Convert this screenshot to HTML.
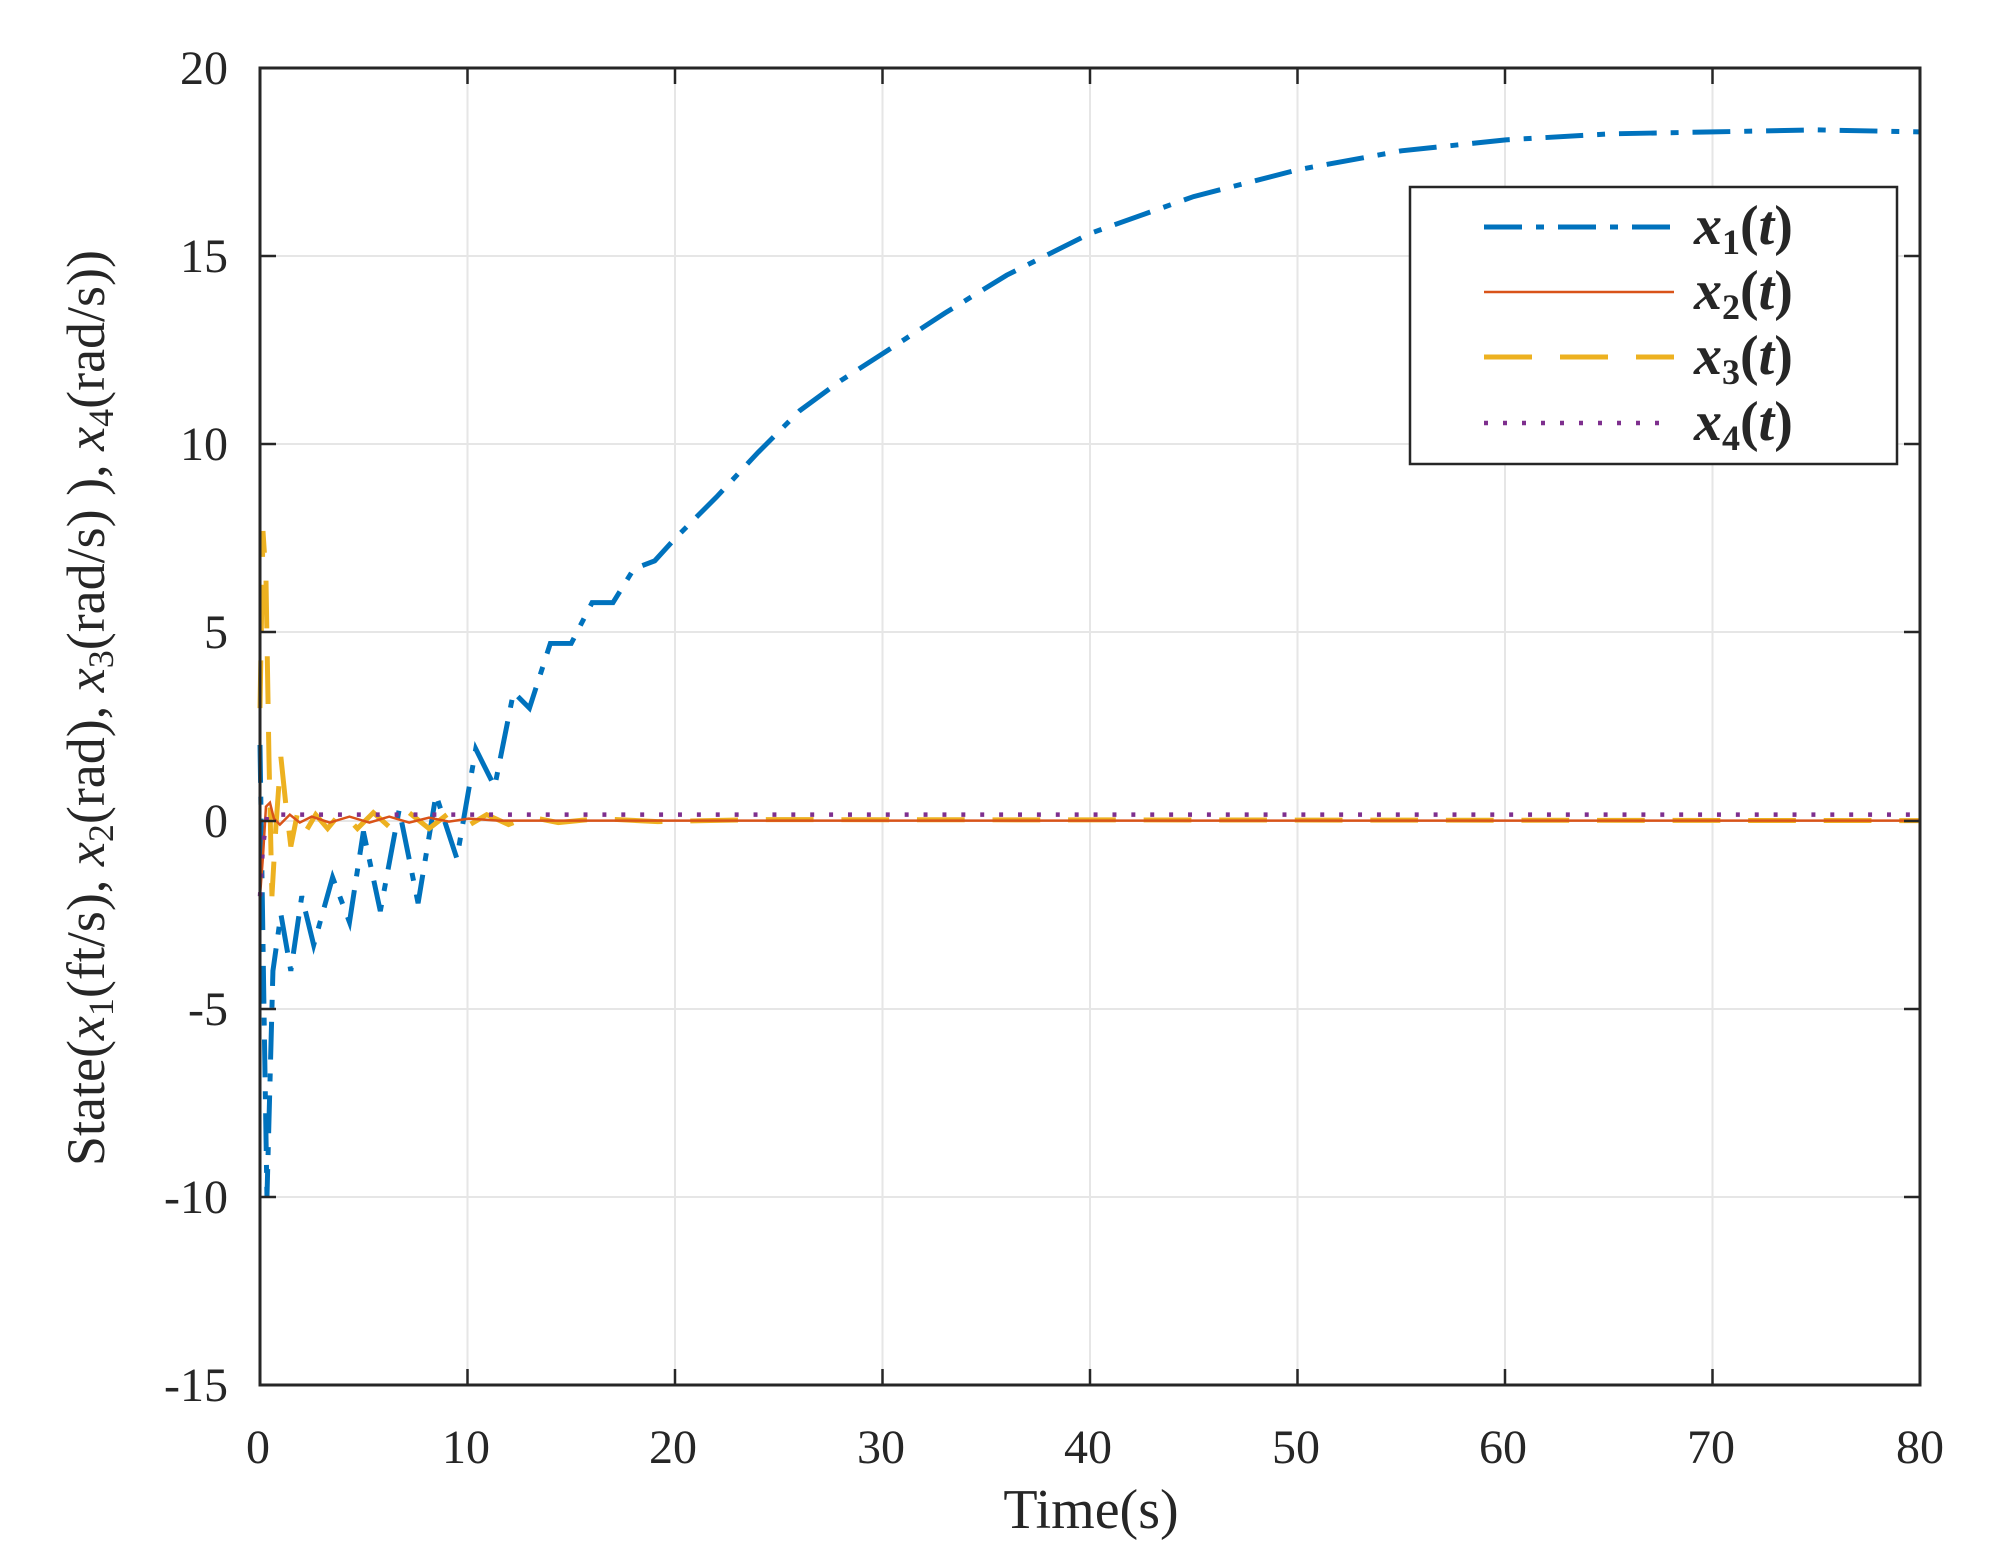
<!DOCTYPE html>
<html><head><meta charset="utf-8"><style>
html,body{margin:0;padding:0;background:#fff}
svg{display:block}
text{font-family:"Liberation Serif",serif;fill:#262626}
</style></head><body>
<svg width="1991" height="1560" viewBox="0 0 1991 1560" xmlns="http://www.w3.org/2000/svg">
<rect width="1991" height="1560" fill="#fff"/>
<g stroke="#e6e6e6" stroke-width="2">
<line x1="467.5" y1="68" x2="467.5" y2="1385"/><line x1="675" y1="68" x2="675" y2="1385"/>
<line x1="882.5" y1="68" x2="882.5" y2="1385"/><line x1="1090" y1="68" x2="1090" y2="1385"/>
<line x1="1297.5" y1="68" x2="1297.5" y2="1385"/><line x1="1505" y1="68" x2="1505" y2="1385"/>
<line x1="1712.5" y1="68" x2="1712.5" y2="1385"/>
<line x1="260" y1="256" x2="1920" y2="256"/><line x1="260" y1="444" x2="1920" y2="444"/>
<line x1="260" y1="632" x2="1920" y2="632"/><line x1="260" y1="821" x2="1920" y2="821"/>
<line x1="260" y1="1009" x2="1920" y2="1009"/><line x1="260" y1="1197" x2="1920" y2="1197"/>
</g>
<g transform="translate(260,820.6) scale(0.99425,0.99524) translate(-260,-824)">
<polyline fill="none" stroke="#0072BD" stroke-width="5" stroke-dasharray="38,14,8,14" points="260,748 264,1013 267,1202 273,975 281,918 291,975 302,900 314,949 333,881 350,926 364,835 381,915 400,813 419,907 437,798 458,862 477,752 496,790 515,695 531,711 552,646 573,646 594,605 615,605 636,571 657,563 677,541 719,499 761,454 803,412 844,382 886,355 949,314 1011,276 1095,234 1199,197 1304,170 1408,151 1513,140 1617,134 1722,132 1826,130 1930,132"/>
<polyline fill="none" stroke="#EDB120" stroke-width="5" stroke-dasharray="48,28" points="260,711 263,533 266,580 269,760 272,900 276,830 281,760 286,808 291,850 298,815 306,835 316,818 328,832 342,815 358,832 374,816 392,832 410,816 430,832 448,818 468,830 488,818 510,828 530,820 560,826 600,822 660,825 760,823 1930,824"/>
<polyline fill="none" stroke="#D95319" stroke-width="2.5" points="260,900 263,860 266,810 270,806 274,822 280,828 290,818 300,826 312,820 330,826 350,820 370,826 390,820 410,826 430,821 450,825 470,822 500,824 1930,824"/>
<polyline fill="none" stroke="#7E2F8E" stroke-width="4.5" stroke-dasharray="4,15" points="260,900 263,850 267,820 275,818 290,818 1930,818"/>
</g>
<rect x="260" y="68" width="1660" height="1317" fill="none" stroke="#262626" stroke-width="3"/>
<g stroke="#262626" stroke-width="2.5">
<line x1="467.5" y1="1385" x2="467.5" y2="1369"/><line x1="675" y1="1385" x2="675" y2="1369"/><line x1="882.5" y1="1385" x2="882.5" y2="1369"/><line x1="1090" y1="1385" x2="1090" y2="1369"/><line x1="1297.5" y1="1385" x2="1297.5" y2="1369"/><line x1="1505" y1="1385" x2="1505" y2="1369"/><line x1="1712.5" y1="1385" x2="1712.5" y2="1369"/>
<line x1="467.5" y1="68" x2="467.5" y2="84"/><line x1="675" y1="68" x2="675" y2="84"/><line x1="882.5" y1="68" x2="882.5" y2="84"/><line x1="1090" y1="68" x2="1090" y2="84"/><line x1="1297.5" y1="68" x2="1297.5" y2="84"/><line x1="1505" y1="68" x2="1505" y2="84"/><line x1="1712.5" y1="68" x2="1712.5" y2="84"/>
<line x1="260" y1="256" x2="276" y2="256"/><line x1="260" y1="444" x2="276" y2="444"/><line x1="260" y1="632" x2="276" y2="632"/><line x1="260" y1="821" x2="276" y2="821"/><line x1="260" y1="1009" x2="276" y2="1009"/><line x1="260" y1="1197" x2="276" y2="1197"/>
<line x1="1920" y1="256" x2="1904" y2="256"/><line x1="1920" y1="444" x2="1904" y2="444"/><line x1="1920" y1="632" x2="1904" y2="632"/><line x1="1920" y1="821" x2="1904" y2="821"/><line x1="1920" y1="1009" x2="1904" y2="1009"/><line x1="1920" y1="1197" x2="1904" y2="1197"/>
</g>
<g font-size="48" text-anchor="end">
<text x="228" y="84">20</text><text x="228" y="272">15</text><text x="228" y="460">10</text><text x="228" y="648">5</text><text x="228" y="837">0</text><text x="228" y="1025">-5</text><text x="228" y="1213">-10</text><text x="228" y="1401">-15</text>
</g>
<g font-size="48" text-anchor="middle">
<text x="258" y="1463">0</text><text x="466" y="1463">10</text><text x="673" y="1463">20</text><text x="881" y="1463">30</text><text x="1088" y="1463">40</text><text x="1296" y="1463">50</text><text x="1503" y="1463">60</text><text x="1711" y="1463">70</text><text x="1920" y="1463">80</text>
<text x="1091" y="1528" font-size="56">Time(s)</text>
</g>
<text transform="translate(104,708) rotate(-90)" font-size="54" text-anchor="middle">State(<tspan font-style="italic">x</tspan><tspan font-size="36" dy="9">1</tspan><tspan dy="-9">(ft/s), </tspan><tspan font-style="italic">x</tspan><tspan font-size="36" dy="9">2</tspan><tspan dy="-9">(rad), </tspan><tspan font-style="italic">x</tspan><tspan font-size="36" dy="9">3</tspan><tspan dy="-9">(rad/s) ), </tspan><tspan font-style="italic">x</tspan><tspan font-size="36" dy="9">4</tspan><tspan dy="-9">(rad/s))</tspan></text>
<rect x="1410" y="187" width="487" height="277" fill="#fff" stroke="#262626" stroke-width="2.5"/>
<line x1="1484" y1="227" x2="1674" y2="227" stroke="#0072BD" stroke-width="5" stroke-dasharray="38,14,8,14"/>
<line x1="1484" y1="292" x2="1674" y2="292" stroke="#D95319" stroke-width="2.5"/>
<line x1="1484" y1="357" x2="1674" y2="357" stroke="#EDB120" stroke-width="5" stroke-dasharray="48,28"/>
<line x1="1484" y1="423" x2="1674" y2="423" stroke="#7E2F8E" stroke-width="4.5" stroke-dasharray="4,15"/>
<g font-size="56" font-weight="bold" fill="#111">
<text x="1694" y="244"><tspan font-style="italic">x</tspan><tspan font-size="36" dy="10">1</tspan><tspan dy="-10">(</tspan><tspan font-style="italic">t</tspan>)</text>
<text x="1694" y="309"><tspan font-style="italic">x</tspan><tspan font-size="36" dy="10">2</tspan><tspan dy="-10">(</tspan><tspan font-style="italic">t</tspan>)</text>
<text x="1694" y="374"><tspan font-style="italic">x</tspan><tspan font-size="36" dy="10">3</tspan><tspan dy="-10">(</tspan><tspan font-style="italic">t</tspan>)</text>
<text x="1694" y="440"><tspan font-style="italic">x</tspan><tspan font-size="36" dy="10">4</tspan><tspan dy="-10">(</tspan><tspan font-style="italic">t</tspan>)</text>
</g>
</svg>
</body></html>
